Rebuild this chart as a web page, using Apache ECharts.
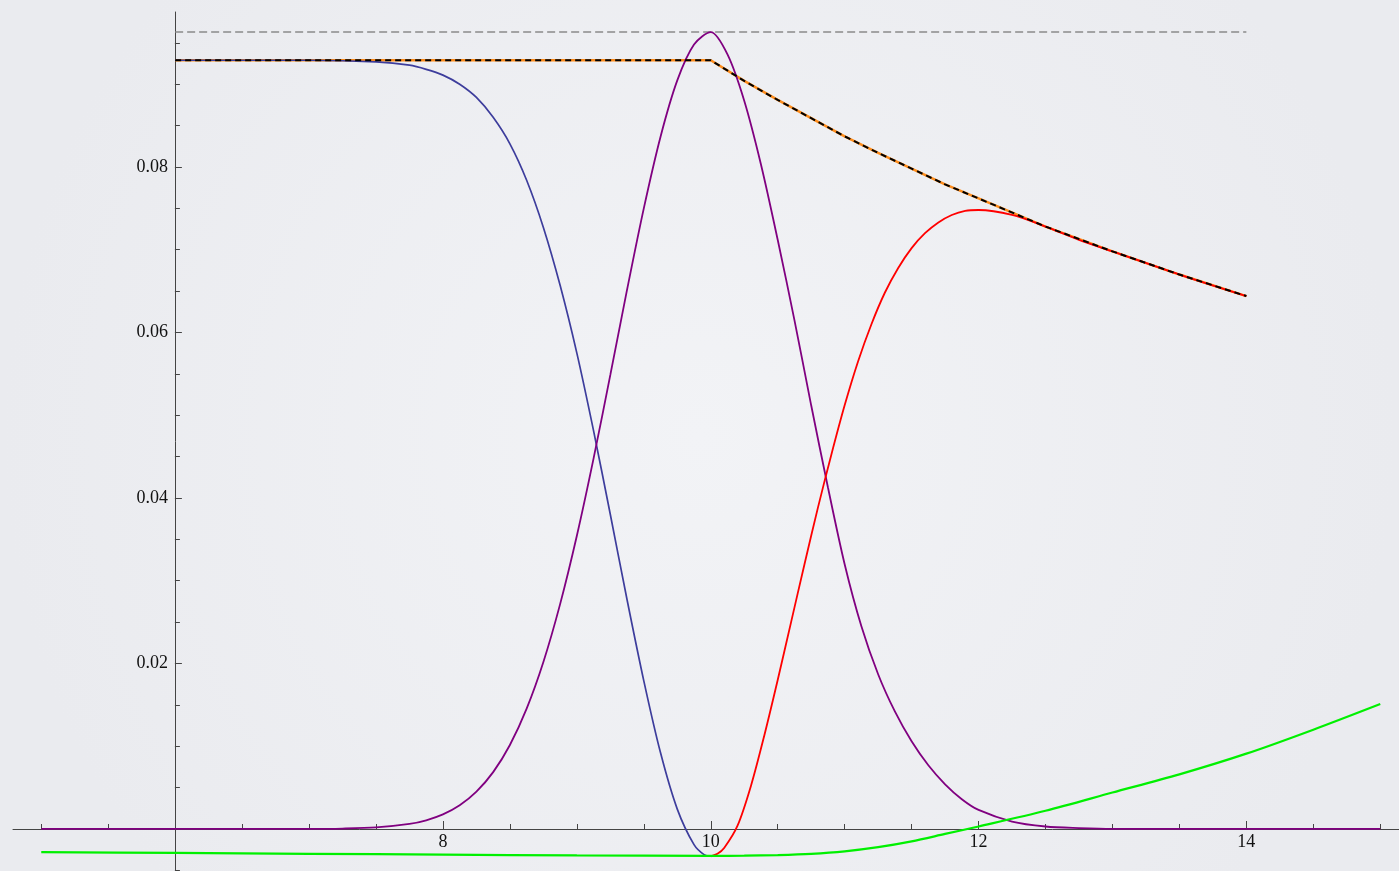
<!DOCTYPE html>
<html lang="en">

<head>
    <meta charset="UTF-8">
    <title>Plot</title>
    <script src="https://cdn.jsdelivr.net/npm/echarts@6/dist/echarts.min.js"></script>
    <style>
        html, body { margin: 0; padding: 0; }
    </style>
</head>

<body>
    <div id="main" style="width: 1399px;height:871px;"></div>
    <script type="text/javascript">

        // tick positions
        var xMinorTicks = [5, 5.5, 6.5, 7, 7.5, 8.5, 9, 9.5, 10.5, 11, 11.5, 12.5, 13, 13.5, 14.5, 15];
        var xMajorTicks = [8, 10, 12, 14];
        var yMinorTicks = [-0.005, 0.005, 0.01, 0.015, 0.025, 0.03, 0.035, 0.045, 0.05, 0.055, 0.065, 0.07, 0.075, 0.085, 0.09, 0.095];
        var yMajorTicks = [0.02, 0.04, 0.06, 0.08];

        // curves
        var refX = [6, 14];
        var refY = [0.0963, 0.0963];

        var envX = [6, 10, 10.25, 10.5, 10.75, 11, 11.25, 11.5, 11.75, 12, 12.5, 13, 13.5, 14];
        var envY = [0.0929, 0.0929, 0.0904, 0.0881, 0.0859, 0.0837, 0.0817, 0.0798, 0.0779, 0.0762, 0.0728, 0.0698, 0.0670, 0.0644];

        var blueX = [6, 6.5, 7, 7.5, 7.75, 7.875, 8, 8.125, 8.25, 8.375, 8.5, 8.625, 8.75, 8.875, 9, 9.125, 9.25, 9.375, 9.5, 9.625, 9.75, 9.875, 9.95, 10];
        var blueY = [0.0929, 0.0929, 0.0929, 0.0927, 0.0923, 0.0918, 0.0911, 0.0900, 0.0884, 0.0860, 0.0828, 0.0784, 0.0727, 0.0657, 0.0575, 0.0481, 0.0380, 0.0277, 0.0179, 0.0092, 0.0024, -0.0019, -0.0031, -0.0033];

        var purpleX = [5, 6, 7, 7.25, 7.5, 7.75, 7.875, 8, 8.125, 8.25, 8.375, 8.5, 8.625, 8.75, 8.875, 9, 9.125, 9.25, 9.375, 9.5, 9.625, 9.75, 9.875, 10,
            10.125, 10.25, 10.375, 10.5, 10.625, 10.75, 10.875, 11, 11.125, 11.25, 11.375, 11.5, 11.625, 11.75, 11.875, 12, 12.25, 12.5, 12.75, 13, 14, 15];
        var purpleY = [0, 0, 0.00001, 0.00005, 0.00019, 0.00061, 0.00105, 0.00176, 0.00286, 0.00451, 0.00687, 0.01015, 0.01454, 0.02018, 0.02717, 0.03543, 0.04478, 0.05487, 0.06517, 0.0750, 0.08366, 0.09046, 0.0948, 0.0963,
            0.0936, 0.0880, 0.0803, 0.0712, 0.0615, 0.0512, 0.0413, 0.0320, 0.0245, 0.0187, 0.0142, 0.0106, 0.0077, 0.0054, 0.0036, 0.0023, 0.0009, 0.0003, 0.0001, 0, 0, 0];

        var redX = [10, 10.05, 10.1, 10.2, 10.3, 10.4, 10.5, 10.6, 10.7, 10.8, 10.9, 11, 11.1, 11.2, 11.3, 11.4, 11.5, 11.6, 11.7, 11.8, 11.9, 12, 12.25, 12.5, 12.75, 13, 13.5, 14];
        var redY = [-0.0033, -0.0030, -0.0023, 0.0004, 0.0052, 0.0113, 0.0180, 0.0250, 0.0320, 0.0388, 0.0452, 0.0512, 0.0565, 0.0610, 0.0648, 0.0678, 0.0702, 0.0720, 0.0733, 0.0742, 0.0747, 0.0748, 0.0742, 0.0728, 0.0712, 0.0698, 0.0670, 0.0644];

        var greenX = [5, 6, 7, 8, 9, 10, 10.25, 10.5, 10.75, 11, 11.25, 11.5, 11.75, 12, 12.5, 13, 13.5, 14, 14.5, 15];
        var greenY = [-0.0028, -0.0029, -0.0030, -0.0031, -0.0032, -0.00325, -0.00323, -0.00315, -0.0030, -0.0027, -0.0022, -0.0015, -0.0006, 0.0003, 0.0022, 0.0044, 0.0066, 0.0091, 0.0120, 0.0151];

        function pairs(xs, ys) {
            return xs.map((x, i) => [x, ys[i]]);
        }

        var labelFont = {
            color: '#111',
            fontFamily: '"Liberation Serif", "DejaVu Serif", serif',
            fontSize: 18
        };
        var axisColor = '#444';
        // the x axes sit on y = 0, 42px above the grid bottom
        var xAxisOffset = -42;

        function line(data, color, width, extra) {
            return Object.assign({
                type: 'line',
                data: data,
                symbol: 'none',
                smooth: 0.3,
                xAxisIndex: 0,
                yAxisIndex: 0,
                lineStyle: { color: color, width: width },
                silent: true
            }, extra || {});
        }

        var myChart = echarts.init(document.getElementById('main'));

        var option = {
            animation: false,
            backgroundColor: {
                type: 'radial', x: 0.5, y: 0.5, r: 0.8,
                colorStops: [{ offset: 0, color: '#f2f3f6' }, { offset: 1, color: '#eaebef' }]
            },
            grid: { left: 13, right: 0, top: 12, bottom: 0, outerBoundsMode: 'none' },
            xAxis: [{
                type: 'value', position: 'bottom', offset: xAxisOffset, min: 4.789, max: 15.14,
                axisLine: { onZero: false, lineStyle: { color: axisColor, width: 1 } },
                axisTick: { inside: true, length: 5, customValues: xMinorTicks, lineStyle: { color: axisColor } },
                axisLabel: { show: false },
                splitLine: { show: false }
            }, {
                type: 'value', position: 'bottom', offset: xAxisOffset, min: 4.789, max: 15.14,
                axisLine: { onZero: false, lineStyle: { color: 'rgba(0,0,0,0)' } },
                axisTick: { inside: true, length: 8, customValues: xMajorTicks, lineStyle: { color: axisColor } },
                axisLabel: Object.assign({ show: true, customValues: xMajorTicks, margin: 4 }, labelFont),
                splitLine: { show: false }
            }],
            yAxis: [{
                type: 'value', position: 'left', offset: -161.9, min: -0.00508, max: 0.09873,
                axisLine: { show: true, onZero: false, lineStyle: { color: axisColor, width: 1 } },
                axisTick: { show: true, inside: true, length: 5, customValues: yMinorTicks, lineStyle: { color: axisColor } },
                axisLabel: { show: false },
                splitLine: { show: false }
            }, {
                type: 'value', position: 'left', offset: -161.9, min: -0.00508, max: 0.09873,
                axisLine: { show: true, onZero: false, lineStyle: { color: 'rgba(0,0,0,0)' } },
                axisTick: { show: true, inside: true, length: 7, customValues: yMajorTicks, lineStyle: { color: axisColor } },
                axisLabel: Object.assign({
                    customValues: yMajorTicks, margin: 7,
                    formatter: v => v.toFixed(2)
                }, labelFont),
                splitLine: { show: false }
            }],
            series: [
                line(pairs(refX, refY), '#8a8a8a', 1.5, { smooth: false, lineStyle: { color: '#8a8a8a', width: 1.5, type: [8, 4] } }),
                line(pairs(envX, envY), '#ff8c1a', 2.5, { smooth: false }),
                line(pairs(blueX, blueY), '#3d3d9c', 1.7),
                line(pairs(purpleX, purpleY), '#800080', 1.8),
                line(pairs(redX, redY), '#ff0000', 1.8),
                line(pairs(greenX, greenY), '#00f000', 2.2),
                line(pairs(envX, envY), '#000', 2, { smooth: false, lineStyle: { color: '#000', width: 2, type: [6, 4] } })
            ]
        };

        myChart.setOption(option);
    </script>
</body>

</html>
